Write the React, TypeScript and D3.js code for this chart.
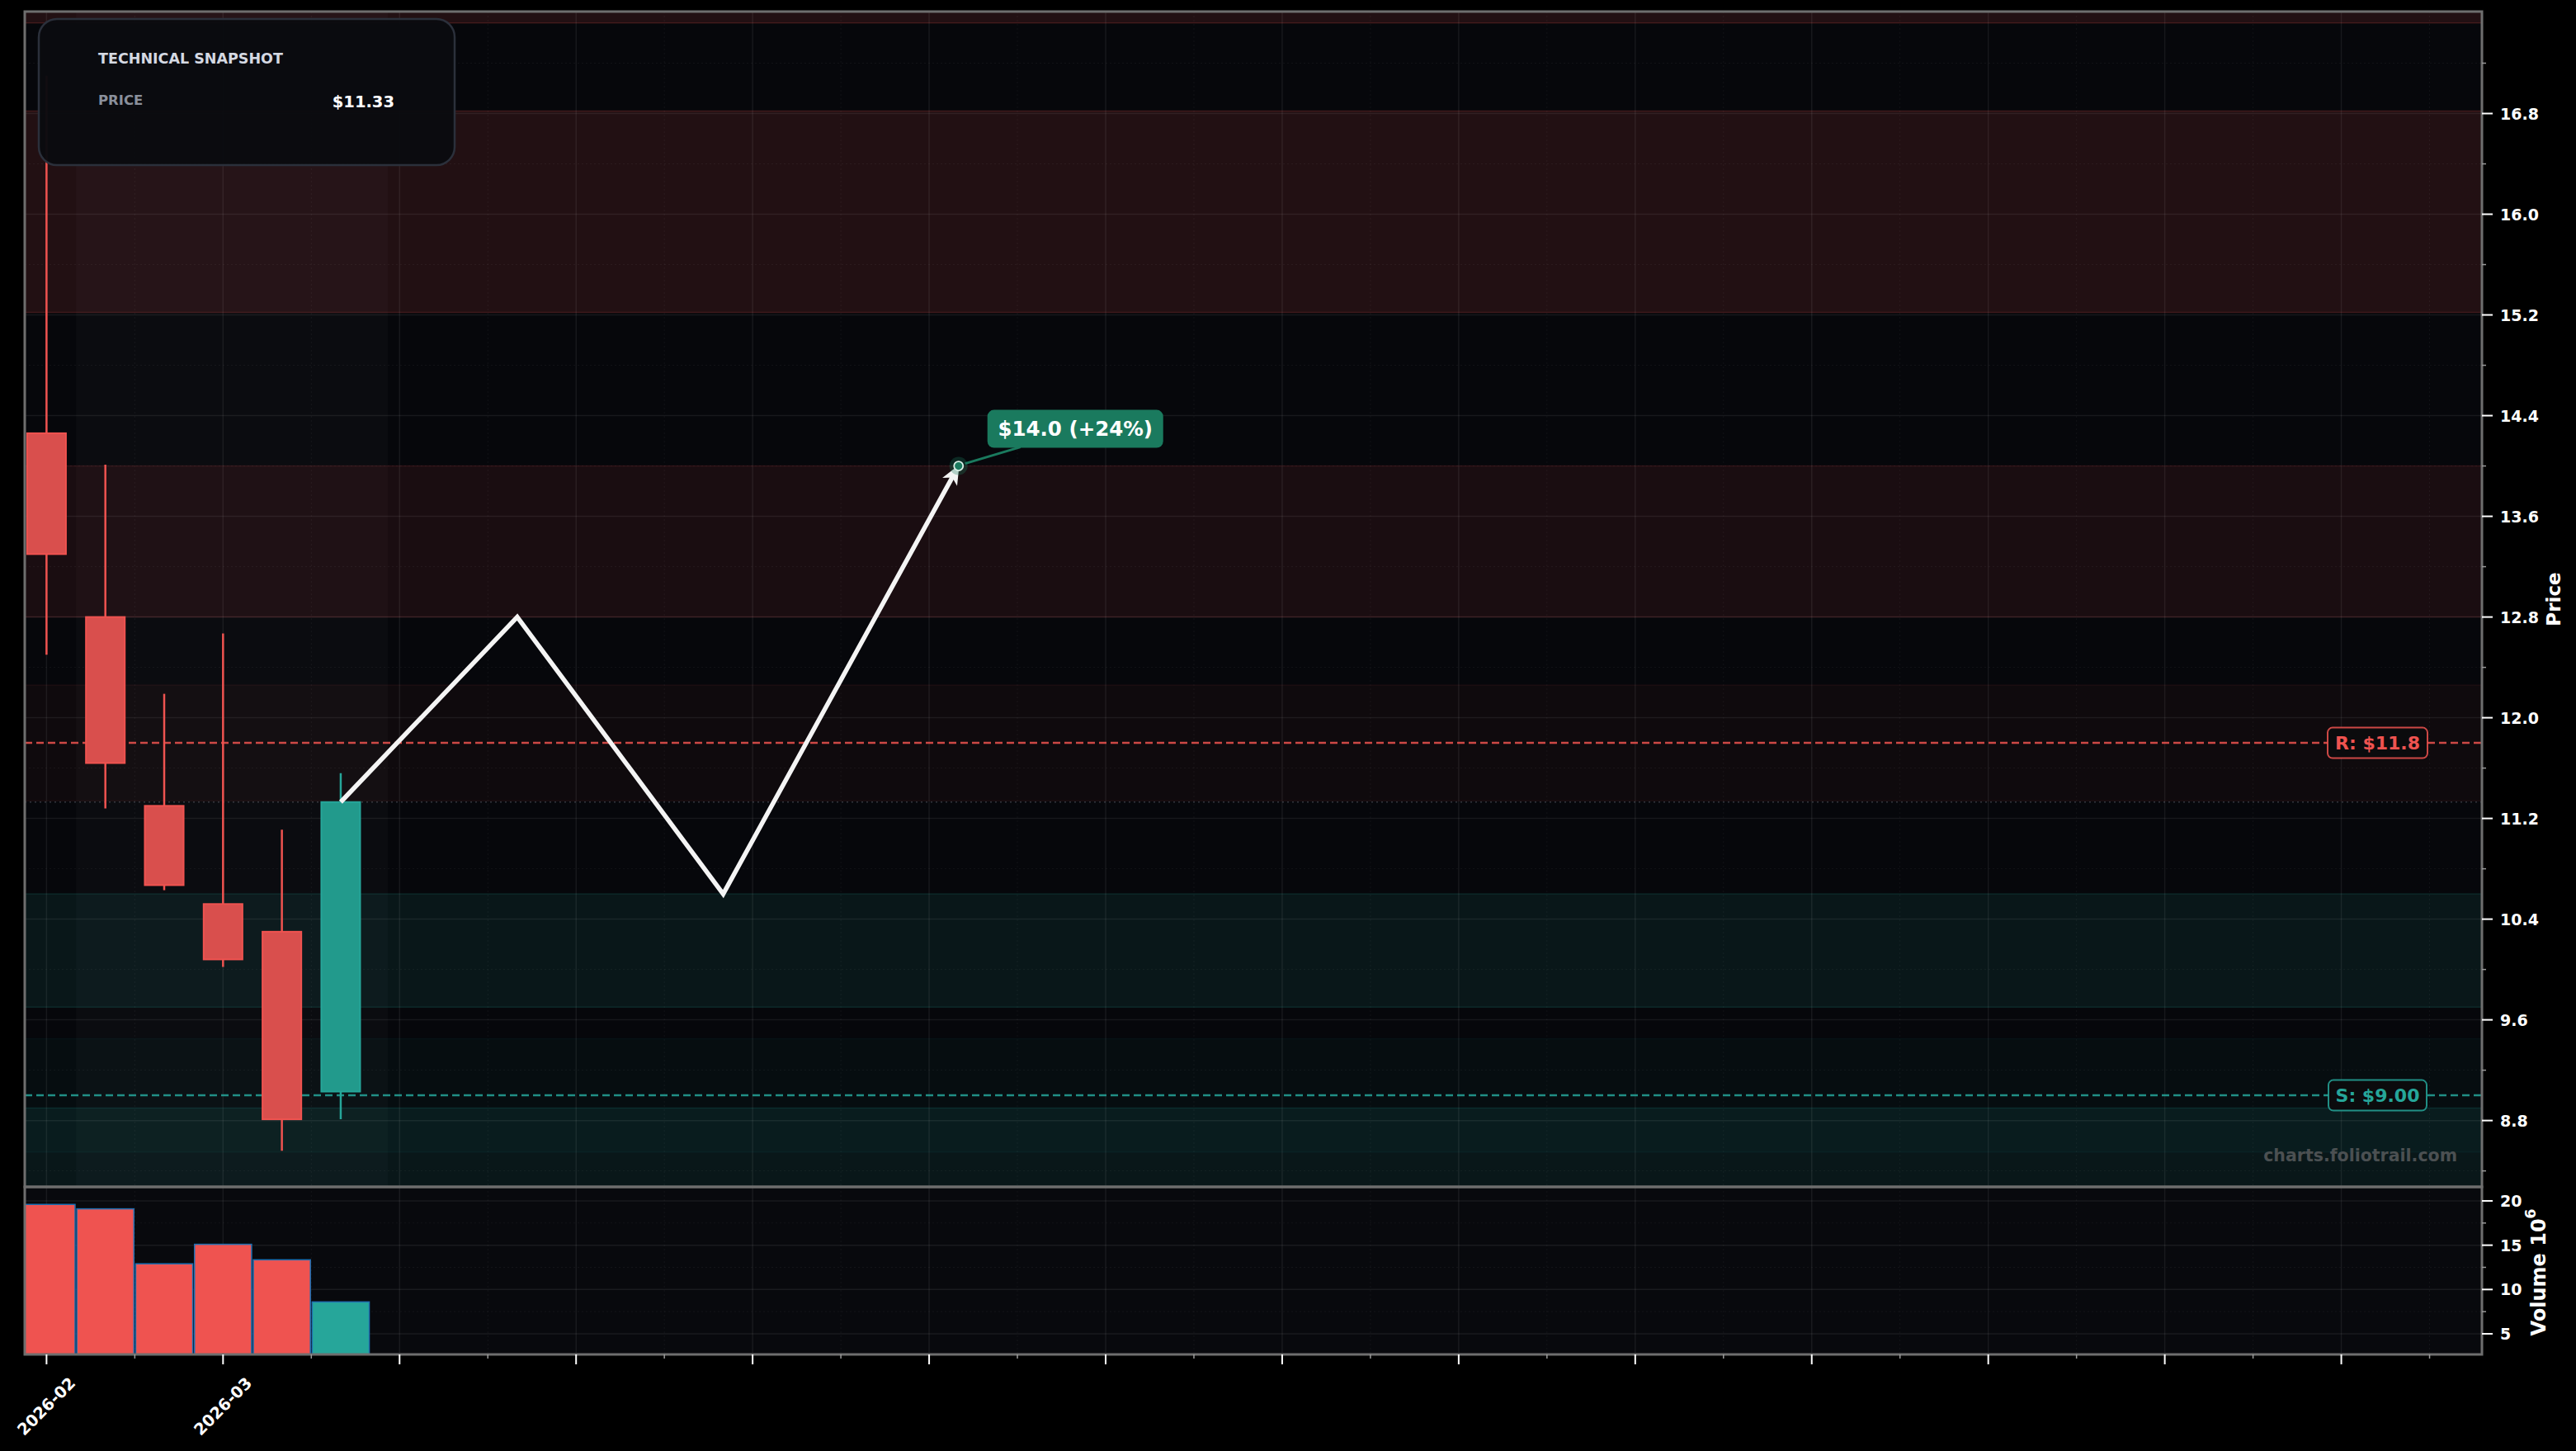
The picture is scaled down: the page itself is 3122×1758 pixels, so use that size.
import * as d3 from 'd3';

// weekly candles (index based x axis)
const candleOpen = [14.26, 12.8, 11.3, 10.52, 10.3, 9.03];
const candleHigh = [17.1, 14.01, 12.19, 12.67, 11.11, 11.56];
const candleLow = [12.5, 11.28, 10.63, 10.02, 8.56, 8.81];
const candleClose = [13.3, 11.64, 10.67, 10.08, 8.81, 11.33];
const volumes = [19.6, 19.1, 12.9, 15.1, 13.35, 8.6]; // x 10^6

// projected path
const forecastX = [5, 8, 11.5, 15.5];
const forecastPrice = [11.33, 12.8, 10.6, 14.0];

// supply / demand zones
const zoneLow = [17.52, 15.22, 12.8, 11.34, 9.7, 8.55, 8.0];
const zoneHigh = [18.2, 16.82, 14.0, 12.26, 10.6, 9.45, 8.9];
const zoneKind = ['r', 'r', 'r', 'r', 's', 's', 's'];
const zoneAlpha = [0.12, 0.12, 0.085, 0.045, 0.1, 0.04, 0.1];

const xTickPos = [0, 3];
const xTickLabels = ['2026-02', '2026-03'];
const priceTicks = [8.8, 9.6, 10.4, 11.2, 12.0, 12.8, 13.6, 14.4, 15.2, 16.0, 16.8];
const volumeTicks = [5, 10, 15, 20];

const resistance = 11.8;
const support = 9.0;
const lastPrice = 11.33;
const targetPct = 24;

const RED = '#ef5350';
const TEAL = '#26a69a';
const FONT = 'DejaVu Sans, sans-serif';

const W = 3122;
const H = 1758;
const L = 30;
const R = 3008;
const T = 14;
const MB = 1438;
const VB = 1641;

export default function App() {
  const x = d3.scaleLinear().domain([-0.37, 41.39]).range([L, R]);
  const y = d3.scaleLinear().domain([8.273, 17.61]).range([MB, T]);
  const yv = d3.scaleLinear().domain([2.67, 21.58]).range([VB, MB]);

  const majorX = d3.range(0, 41, 3);
  const minorX = d3.range(1.5, 41, 3);
  const minorP = priceTicks.map((p) => p + 0.4).concat([8.4]);
  const minorV = [7.5, 12.5, 17.5];

  const line = d3
    .line<number>()
    .x((_, i) => x(forecastX[i]))
    .y((d) => y(d));

  const n = forecastX.length;
  const tx = x(forecastX[n - 1]);
  const ty = y(forecastPrice[n - 1]);
  const px = x(forecastX[n - 2]);
  const py = y(forecastPrice[n - 2]);
  const ang = Math.atan2(ty - py, tx - px);
  const head = (len: number, a: number) =>
    `${tx - len * Math.cos(ang + a)},${ty - len * Math.sin(ang + a)}`;
  const lineEndX = tx - 12 * Math.cos(ang);
  const lineEndY = ty - 12 * Math.sin(ang);
  const pathPts = forecastPrice.slice(0, n - 1);

  const bw = 0.66;
  const vw = 0.97;

  return (
    <svg width={W} height={H} style={{ position: 'absolute', left: 0, top: 0, background: '#000' }}
      fontFamily={FONT}>
      <defs>
        <clipPath id="mainClip"><rect x={L} y={T} width={R - L} height={MB - T} /></clipPath>
        <clipPath id="volClip"><rect x={L} y={MB} width={R - L} height={VB - MB} /></clipPath>
      </defs>
      <rect width={W} height={H} fill="#000" />

      {/* main panel */}
      <g clipPath="url(#mainClip)">
        <rect x={L} y={T} width={R - L} height={MB - T} fill="#06070b" />
        <rect x={x(0.5)} y={T} width={x(5.8) - x(0.5)} height={MB - T} fill="#fff" opacity={0.025} />
        {zoneLow.map((lo, i) => {
          const c = zoneKind[i] === 'r' ? RED : TEAL;
          return (
            <g key={'z' + i}>
              <rect x={L} width={R - L} y={y(zoneHigh[i])} height={y(lo) - y(zoneHigh[i])}
                fill={c} fillOpacity={zoneAlpha[i]} />
              <line x1={L} x2={R} y1={y(zoneHigh[i])} y2={y(zoneHigh[i])} stroke={c}
                strokeOpacity={zoneAlpha[i] * 1.6} strokeWidth={1.5} />
              <line x1={L} x2={R} y1={y(lo)} y2={y(lo)} stroke={c}
                strokeOpacity={zoneAlpha[i] * 1.6} strokeWidth={1.5} />
            </g>
          );
        })}
        {priceTicks.map((p) => (
          <line key={'gp' + p} x1={L} x2={R} y1={y(p)} y2={y(p)} stroke="#fff" strokeOpacity={0.07} strokeWidth={1.5} />
        ))}
        {minorP.map((p) => (
          <line key={'gm' + p} x1={L} x2={R} y1={y(p)} y2={y(p)} stroke="#fff" strokeOpacity={0.05}
            strokeWidth={1} strokeDasharray="2 3" />
        ))}
        {majorX.map((v) => (
          <line key={'gx' + v} x1={x(v)} x2={x(v)} y1={T} y2={MB} stroke="#fff" strokeOpacity={0.07} strokeWidth={1.5} />
        ))}
        {minorX.map((v) => (
          <line key={'gxm' + v} x1={x(v)} x2={x(v)} y1={T} y2={MB} stroke="#fff" strokeOpacity={0.05}
            strokeWidth={1} strokeDasharray="2 3" />
        ))}

        {/* current price */}
        <line x1={L} x2={R} y1={y(lastPrice)} y2={y(lastPrice)} stroke="#8a8f9a" strokeOpacity={0.35}
          strokeWidth={1.5} strokeDasharray="2 4" />

        {/* resistance / support */}
        <line x1={L} x2={R} y1={y(resistance)} y2={y(resistance)} stroke={RED} strokeOpacity={0.85}
          strokeWidth={2.5} strokeDasharray="9 5" />
        <line x1={L} x2={R} y1={y(support)} y2={y(support)} stroke={TEAL} strokeOpacity={0.85}
          strokeWidth={2.5} strokeDasharray="9 5" />

        {/* candles */}
        {candleOpen.map((o, i) => {
          const c = candleClose[i];
          const up = c >= o;
          const col = up ? TEAL : RED;
          const top = y(Math.max(o, c));
          const bot = y(Math.min(o, c));
          return (
            <g key={'c' + i}>
              <line x1={x(i)} x2={x(i)} y1={y(candleHigh[i])} y2={y(candleLow[i])} stroke={col} strokeWidth={2.5} />
              <rect x={x(i - bw / 2)} width={x(bw) - x(0)} y={top} height={bot - top}
                fill={up ? '#229a8c' : '#d94f4d'} stroke={col} strokeWidth={2} />
            </g>
          );
        })}

        {/* projection */}
        <path d={(line(pathPts) || '') + `L${lineEndX},${lineEndY}`} fill="none" stroke="#f4f4f4"
          strokeWidth={5.5} strokeLinejoin="miter" />
        <polygon points={`${head(22, 0.4)} ${tx},${ty} ${head(22, -0.4)} ${head(15, 0)}`}
          fill="#f4f4f4" stroke="#f4f4f4" strokeWidth={1.5} strokeLinejoin="miter" />
        <circle cx={tx} cy={ty} r={11} fill="#1a7a5e" opacity={0.3} />
        <circle cx={tx} cy={ty} r={5.5} fill="#1a7a5e" stroke="#d8efe6" strokeWidth={1.8} />
        <line x1={tx + 8} y1={ty - 3} x2={tx + 75} y2={ty - 23} stroke="#1a7a5e" strokeWidth={3} />
        <rect x={tx + 35} y={ty - 68} width={213} height={46} rx={8} fill="#1a7a5e" />
        <text x={tx + 35 + 106.5} y={ty - 45} textAnchor="middle" dominantBaseline="central"
          fill="#fff" fontSize={24.5} fontWeight="bold">
          {`$${forecastPrice[n - 1].toFixed(1)} (+${targetPct}%)`}
        </text>

        {/* level labels */}
        <rect x={2821} y={y(resistance) - 18.5} width={121} height={37} rx={6} fill="#0b0b0d"
          stroke={RED} strokeOpacity={0.85} strokeWidth={2} />
        <text x={2881.5} y={y(resistance)} textAnchor="middle" dominantBaseline="central" fill={RED}
          fontSize={22} fontWeight="bold">{`R: $${resistance.toFixed(1)}`}</text>
        <rect x={2822} y={y(support) - 18.5} width={119} height={37} rx={6} fill="#0b0b0d"
          stroke={TEAL} strokeOpacity={0.85} strokeWidth={2} />
        <text x={2881.5} y={y(support)} textAnchor="middle" dominantBaseline="central" fill={TEAL}
          fontSize={22} fontWeight="bold">{`S: $${support.toFixed(2)}`}</text>

        <text x={2978} y={1407} textAnchor="end" fill="#4b5052" fontSize={20.5} fontWeight="bold">
          charts.foliotrail.com
        </text>
      </g>

      {/* volume panel */}
      <g clipPath="url(#volClip)">
        <rect x={L} y={MB} width={R - L} height={VB - MB} fill="#08090d" />
        {volumeTicks.map((v) => (
          <line key={'gv' + v} x1={L} x2={R} y1={yv(v)} y2={yv(v)} stroke="#fff" strokeOpacity={0.07} strokeWidth={1.5} />
        ))}
        {minorV.map((v) => (
          <line key={'gvm' + v} x1={L} x2={R} y1={yv(v)} y2={yv(v)} stroke="#fff" strokeOpacity={0.05}
            strokeWidth={1} strokeDasharray="2 3" />
        ))}
        {majorX.map((v) => (
          <line key={'gvx' + v} x1={x(v)} x2={x(v)} y1={MB} y2={VB} stroke="#fff" strokeOpacity={0.07} strokeWidth={1.5} />
        ))}
        {minorX.map((v) => (
          <line key={'gvxm' + v} x1={x(v)} x2={x(v)} y1={MB} y2={VB} stroke="#fff" strokeOpacity={0.05}
            strokeWidth={1} strokeDasharray="2 3" />
        ))}
        {volumes.map((v, i) => (
          <rect key={'v' + i} x={x(i - vw / 2)} width={x(vw) - x(0)} y={yv(v)} height={VB - yv(v)}
            fill={candleClose[i] >= candleOpen[i] ? TEAL : RED} stroke="#1f6fb2" strokeWidth={1.5} />
        ))}
      </g>

      {/* frames */}
      <rect x={L} y={T} width={R - L} height={MB - T} fill="none" stroke="#6e6e6e" strokeWidth={3} />
      <rect x={L} y={MB} width={R - L} height={VB - MB} fill="none" stroke="#6e6e6e" strokeWidth={3} />

      {/* price axis */}
      {priceTicks.map((p) => (
        <g key={'pt' + p}>
          <line x1={R} x2={R + 13} y1={y(p)} y2={y(p)} stroke="#fff" strokeWidth={2} />
          <text x={3030} y={y(p)} dominantBaseline="central" fill="#fff" fontSize={19} fontWeight="bold">
            {p.toFixed(1)}
          </text>
        </g>
      ))}
      {minorP.map((p) => (
        <line key={'pm' + p} x1={R} x2={R + 5} y1={y(p)} y2={y(p)} stroke="#9a9a9a" strokeWidth={1.5} />
      ))}
      <text transform={`translate(3095,${(T + MB) / 2}) rotate(-90)`} textAnchor="middle"
        dominantBaseline="central" fill="#fff" fontSize={23} fontWeight="bold">Price</text>

      {/* volume axis */}
      {volumeTicks.map((v) => (
        <g key={'vt' + v}>
          <line x1={R} x2={R + 13} y1={yv(v)} y2={yv(v)} stroke="#fff" strokeWidth={2} />
          <text x={3030} y={yv(v)} dominantBaseline="central" fill="#fff" fontSize={19} fontWeight="bold">{v}</text>
        </g>
      ))}
      {minorV.map((v) => (
        <line key={'vm' + v} x1={R} x2={R + 5} y1={yv(v)} y2={yv(v)} stroke="#9a9a9a" strokeWidth={1.5} />
      ))}
      <text transform={`translate(3077,${(MB + VB) / 2 + 2}) rotate(-90)`} textAnchor="middle"
        dominantBaseline="central" fill="#fff" fontSize={24} fontWeight="bold">
        Volume  10<tspan dy={-10} fontSize={17}>6</tspan>
      </text>

      {/* x axis */}
      {majorX.map((v) => (
        <line key={'xt' + v} x1={x(v)} x2={x(v)} y1={VB} y2={VB + 12} stroke="#fff" strokeWidth={2} />
      ))}
      {minorX.map((v) => (
        <line key={'xm' + v} x1={x(v)} x2={x(v)} y1={VB} y2={VB + 5} stroke="#9a9a9a" strokeWidth={1.5} />
      ))}
      {xTickPos.map((v, i) => (
        <text key={'xl' + v} transform={`translate(${x(v)},1704) rotate(-45)`} textAnchor="middle"
          dominantBaseline="central" fill="#fff" fontSize={19.5} fontWeight="bold">{xTickLabels[i]}</text>
      ))}

      {/* snapshot card */}
      <rect x={47} y={23} width={504} height={177} rx={22} fill="#0a0b10" fillOpacity={0.97}
        stroke="#2b303b" strokeWidth={2.5} />
      <text x={119} y={77} fill="#d5d9e2" fontSize={17.5} fontWeight="bold">TECHNICAL SNAPSHOT</text>
      <text x={119} y={127} fill="#8a909c" fontSize={16.5} fontWeight="bold">PRICE</text>
      <text x={478} y={130} textAnchor="end" fill="#fff" fontSize={19.5} fontWeight="bold">
        {`$${lastPrice.toFixed(2)}`}
      </text>
    </svg>
  );
}
